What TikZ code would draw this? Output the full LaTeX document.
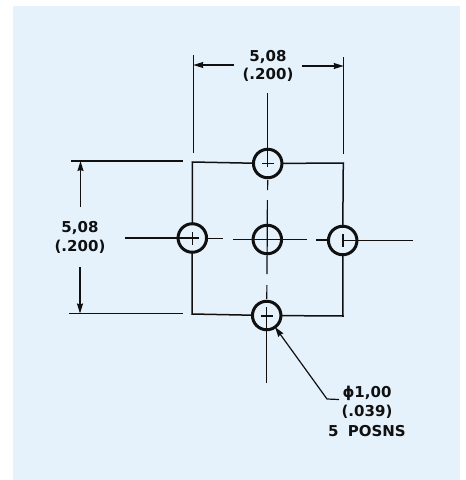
\documentclass[tikz,border=0pt]{standalone}
\usepackage{fontspec}
\setmainfont{DejaVu Sans}
\usetikzlibrary{arrows.meta}
\definecolor{panelblue}{HTML}{E5F2FC}
\definecolor{inkblack}{HTML}{101010}

\begin{document}
\begin{tikzpicture}[x=1pt,y=-1pt,draw=inkblack,text=inkblack]
        \tikzstyle{hole}=[circle,draw,line width=3pt,minimum size=28.5pt,inner sep=0pt,outer sep=0pt]
        \tikzstyle{thin line}=[line width=1.2pt]
        \tikzstyle{outline}=[line width=1.5pt]
        \tikzstyle{dim}=[line width=1.2pt,-{Stealth[length=10pt,width=6pt,inset=1pt]}]
        \tikzstyle{annot}=[font=\fontsize{15}{18.5}\selectfont\bfseries,align=center,inner sep=0pt]

        \useasboundingbox (0,0) rectangle (466,480);
        \fill[panelblue] (13,6) rectangle (460,480);

        % Draw the holes
        \foreach \name / \px / \py in {t/267.7/163.5,l/192.3/238,c/267.3/239.5,r/342.7/240.5,b/266.7/315.5}
            \node[hole] (H-\name) at (\px,\py) {};

        % Ends of the centre lines
        \coordinate (top-end) at (267.7,93);
        \coordinate (bottom-end) at (266.7,383);
        \coordinate (left-end) at (125,238);
        \coordinate (right-end) at (413,240.5);
        \coordinate (t-in) at (267.7,167);
        \coordinate (b-in) at (266.7,307);
        \coordinate (l-in) at (199,238);
        \coordinate (r-in) at (343,240.5);

        % Centre lines
        \draw[thin line] (top-end) -- (t-in);
        \draw[thin line] (bottom-end) -- (b-in);
        \draw[thin line] (left-end) -- (l-in);
        \draw[thin line] (right-end) -- (r-in);
        \draw[thin line] (267.7,180) -- (267.6,190);
        \draw[thin line] (267.4,200) -- (267,274);
        \draw[thin line] (266.9,285) -- (266.8,299);
        \draw[thin line] (208,238.5) -- (223,238.5);
        \draw[thin line] (233,239.5) -- (307,239.5);
        \draw[thin line] (316,240) -- (330,240);

        % Small crosses in the outer holes
        \draw[thin line] (262,163.5) -- (274,163.5);
        \draw[thin line] (261,316) -- (273,316);
        \draw[thin line] (192.3,232) -- (192.3,245);
        \draw[thin line] (343,234) -- (343,247);

        % Square through the holes
        \coordinate (corner-tl) at (192.4,162);
        \coordinate (corner-tr) at (343.3,163);
        \coordinate (corner-bl) at (192,314);
        \coordinate (corner-br) at (343,316);
        \draw[outline] (H-l) -- (corner-tl) -- (H-t);
        \draw[outline] (H-r) -- (corner-tr) -- (H-t);
        \draw[outline] (H-l) -- (corner-bl) -- (H-b);
        \draw[outline] (H-r) -- (corner-br) -- (H-b);

        % Dimension across the top
        \node[annot] (top-dim) at (268,66) {5,08\\(.200)};
        \coordinate (ext-tl-a) at (193.3,55);
        \coordinate (ext-tl-b) at (193.3,153);
        \coordinate (ext-tr-a) at (343.7,57);
        \coordinate (ext-tr-b) at (343.7,154);
        \coordinate (arrow-tl) at (193.3,65);
        \coordinate (arrow-tr) at (343.7,66);
        \draw[outline] (ext-tl-a) -- (ext-tl-b);
        \draw[outline] (ext-tr-a) -- (ext-tr-b);
        \draw[dim] (234,65) -- (arrow-tl);
        \draw[dim] (302,66) -- (arrow-tr);

        % Dimension on the left
        \node[annot] (left-dim) at (80,237.5) {5,08\\(.200)};
        \coordinate (ext-lt-a) at (71,161);
        \coordinate (ext-lt-b) at (183,161);
        \coordinate (ext-lb-a) at (69,313.5);
        \coordinate (ext-lb-b) at (183,313.5);
        \coordinate (arrow-lt) at (80.5,161);
        \coordinate (arrow-lb) at (80,313.5);
        \draw[thin line] (ext-lt-a) -- (ext-lt-b);
        \draw[thin line] (ext-lb-a) -- (ext-lb-b);
        \draw[dim] (80.5,207) -- (arrow-lt);
        \draw[dim] (80,267) -- (arrow-lb);

        % Leader to the bottom hole
        \node[annot,font=\fontsize{15}{19.5}\selectfont\bfseries] (note) at (367,411) {ϕ1,00\\(.039)\\5\hspace{4pt} POSNS};
        \coordinate (kink) at (327,399);
        \coordinate (shelf) at (339,399.5);
        \draw[dim] (shelf) -- (kink) -- (H-b);
\end{tikzpicture}
\end{document}
